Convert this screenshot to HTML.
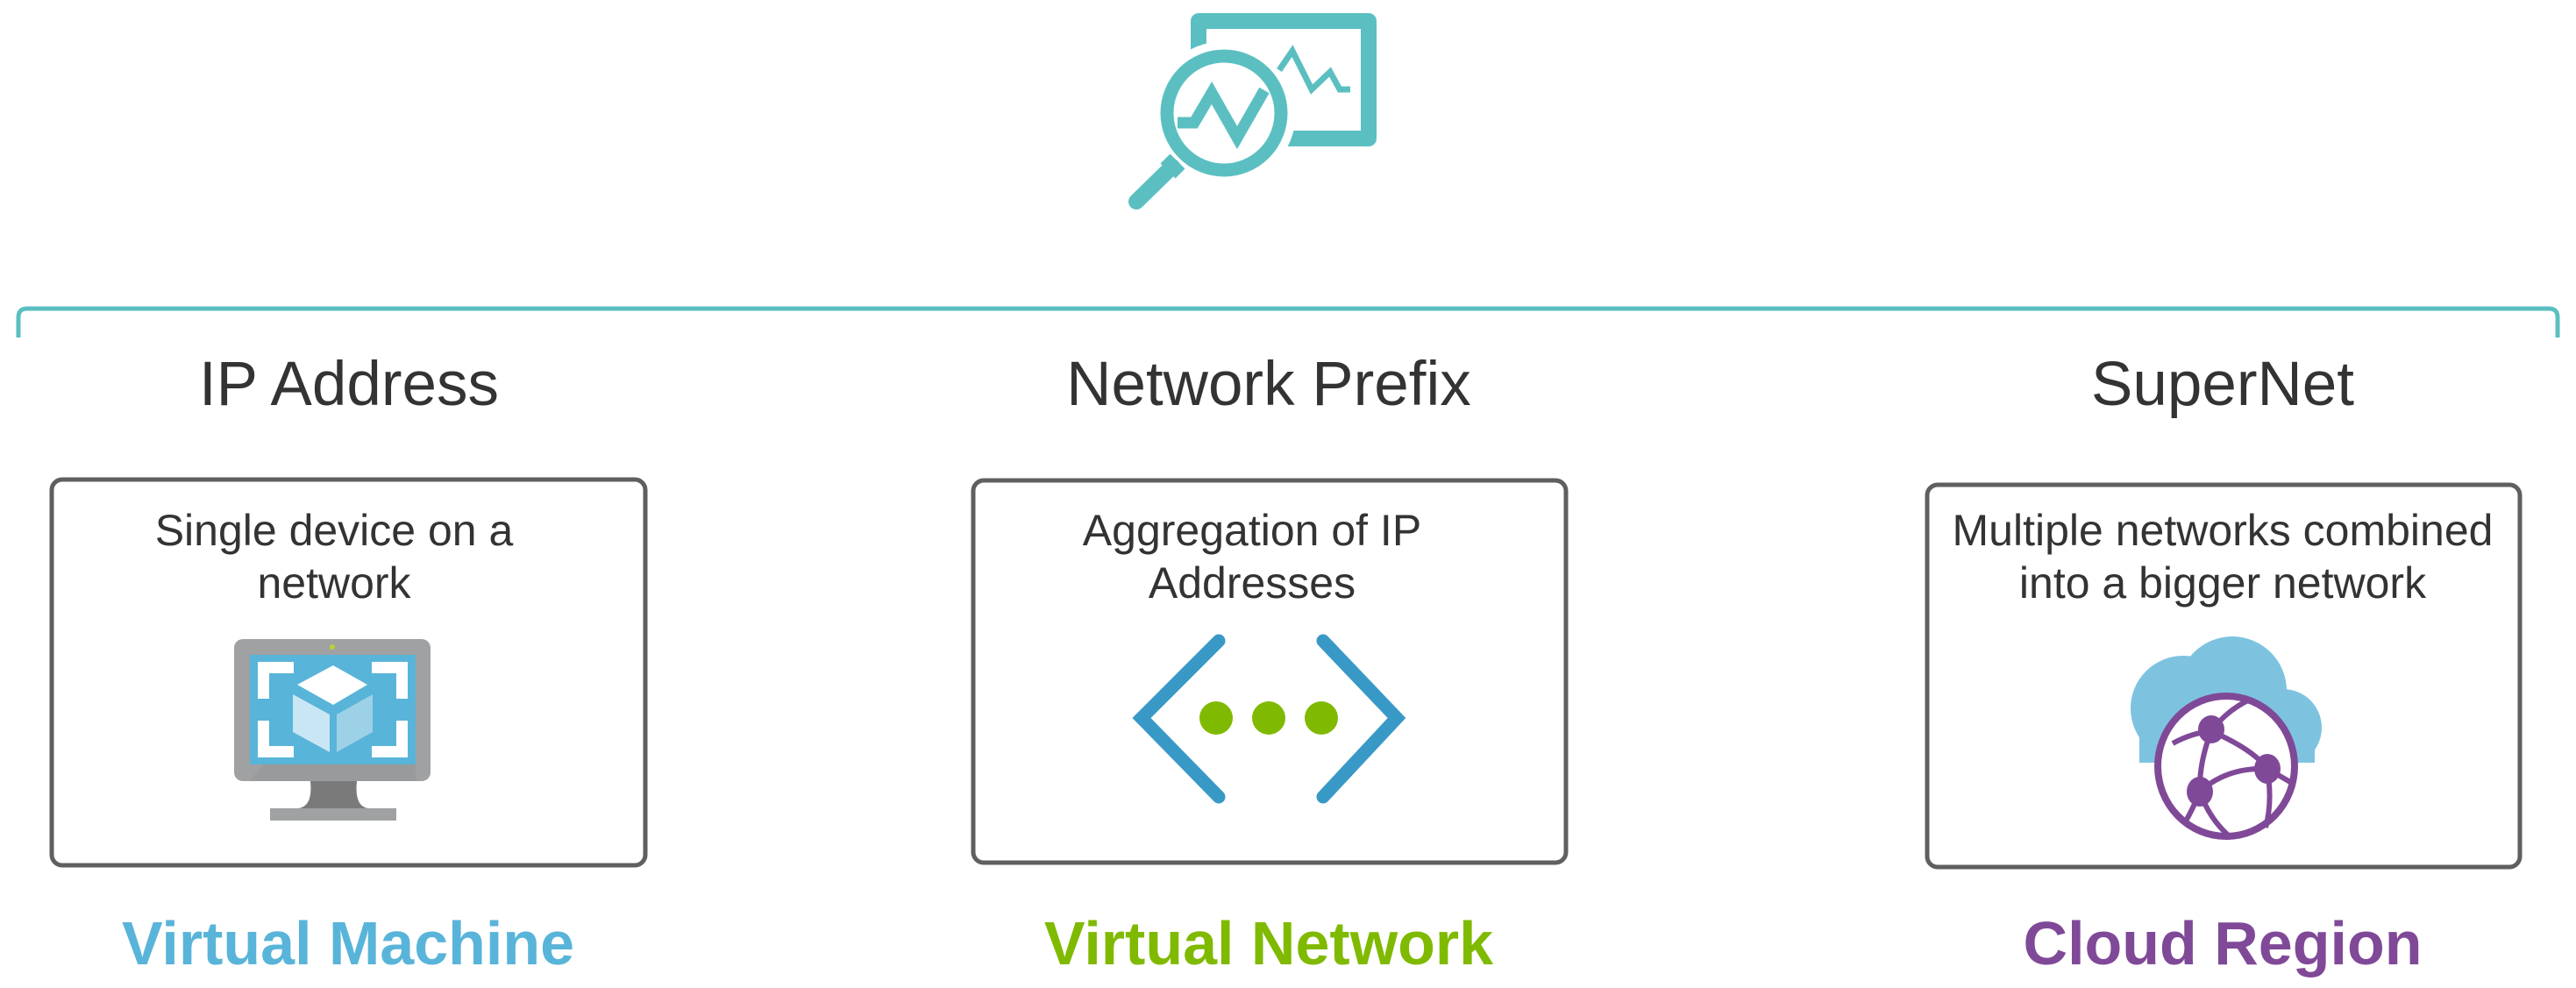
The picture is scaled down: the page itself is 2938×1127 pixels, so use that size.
<!DOCTYPE html>
<html><head><meta charset="utf-8"><style>
html,body{margin:0;padding:0;background:#fff;}
svg{display:block;}
text{font-family:"Liberation Sans",sans-serif;}
</style></head><body>
<svg width="2938" height="1127" viewBox="0 0 2938 1127" xmlns="http://www.w3.org/2000/svg">
<g fill="none" stroke="#5bbfc1">
  <path d="M1367,24 H1561 V158 H1367 Z" stroke-width="18" stroke-linejoin="round"/>
</g>
<circle cx="1396" cy="129" r="82" fill="#fff"/>
<circle cx="1396" cy="129" r="65" fill="#fff" stroke="#5bbfc1" stroke-width="15"/>
<polyline points="1343,140 1362,140 1382,106 1411,157 1442,103" fill="none" stroke="#5bbfc1" stroke-width="13"/>
<polyline points="1459,80 1474,58 1496,102 1517,82 1528,102 1540,102" fill="none" stroke="#5bbfc1" stroke-width="7"/>
<line x1="1337" y1="190" x2="1296" y2="230" stroke="#5bbfc1" stroke-width="18" stroke-linecap="round"/>
<line x1="1343" y1="184" x2="1332" y2="195" stroke="#5bbfc1" stroke-width="24"/>
<path d="M21,385 V362 Q21,352 31,352 H2907 Q2917,352 2917,362 V385" fill="none" stroke="#5bbfc1" stroke-width="5"/>
<g font-size="71" fill="#333" text-anchor="middle">
<text x="398" y="462">IP Address</text>
<text x="1447" y="462">Network Prefix</text>
<text x="2535" y="462">SuperNet</text>
</g>
<g fill="#fff" stroke="#5f5f5f" stroke-width="5">
<rect x="59" y="547" width="677" height="440" rx="12"/>
<rect x="1110" y="548" width="676" height="436" rx="12"/>
<rect x="2198" y="553" width="676" height="436" rx="12"/>
</g>
<g font-size="50" fill="#333" text-anchor="middle">
<text x="381" y="622">Single device on a</text>
<text x="381" y="682">network</text>
<text x="1428" y="622">Aggregation of IP</text>
<text x="1428" y="682">Addresses</text>
<text x="2535" y="622">Multiple networks combined</text>
<text x="2535" y="682">into a bigger network</text>
</g>
<g font-size="70" font-weight="bold" text-anchor="middle">
<text x="397" y="1100" fill="#59b4d9">Virtual Machine</text>
<text x="1447" y="1100" fill="#7fba00">Virtual Network</text>
<text x="2535" y="1100" fill="#804998">Cloud Region</text>
</g>
<rect x="267" y="729" width="224" height="162" rx="10" fill="#a0a1a2"/>
<path d="M285,891 L300,872 H474 V891 Z" fill="#999a9b"/>
<path d="M354,891 H407 Q404,920 420,922 H340 Q357,920 354,891 Z" fill="#7a7a7a"/>
<rect x="308" y="922" width="144" height="14" fill="#a0a1a2"/>
<rect x="285" y="747" width="189" height="125" fill="#59b4d9"/>
<g fill="#fff">
<path d="M294,755 h41 v13 h-28 v29 h-13 z"/>
<path d="M465,755 h-41 v13 h28 v29 h13 z"/>
<path d="M294,864 h41 v-13 h-28 v-29 h-13 z"/>
<path d="M465,864 h-41 v-13 h28 v-29 h13 z"/>
<polygon points="380,759 419,781 380,804 339,781"/>
</g>
<polygon points="334,792 376,815 376,858 334,835" fill="#c8e6f3"/>
<polygon points="384,815 425,792 425,835 384,858" fill="#9dd1e8"/>
<circle cx="379" cy="738" r="3" fill="#b8d432"/>
<polyline points="1390,731 1302,819 1390,909" fill="none" stroke="#3999c6" stroke-width="15" stroke-linecap="round"/>
<polyline points="1509,731 1593,819 1509,909" fill="none" stroke="#3999c6" stroke-width="15" stroke-linecap="round"/>
<g fill="#7fba00">
<circle cx="1387" cy="819" r="19"/><circle cx="1447" cy="819" r="19"/><circle cx="1507" cy="819" r="19"/>
</g>
<g fill="#7dc3e0">
<circle cx="2490" cy="808" r="60"/>
<circle cx="2546" cy="788" r="62"/>
<circle cx="2604" cy="830" r="44"/>
<rect x="2440" y="820" width="200" height="50"/>
</g>
<ellipse cx="2539" cy="874" rx="78" ry="80" fill="#fff" stroke="#804998" stroke-width="8"/>
<g fill="none" stroke="#804998" stroke-width="6">
<path d="M2478,848 Q2500,836 2522,834 Q2540,810 2566,798"/>
<path d="M2522,834 Q2508,870 2509,903 Q2500,925 2492,938"/>
<path d="M2522,834 Q2570,855 2586,877 Q2600,885 2612,892"/>
<path d="M2509,903 Q2540,875 2586,877 Q2592,915 2584,944"/>
<path d="M2509,903 Q2520,935 2545,956"/>
</g>
<g fill="#804998">
<ellipse cx="2522" cy="832" rx="15" ry="16"/>
<ellipse cx="2586" cy="877" rx="15" ry="17"/>
<ellipse cx="2509" cy="903" rx="15" ry="17"/>
</g>
</svg>
</body></html>
